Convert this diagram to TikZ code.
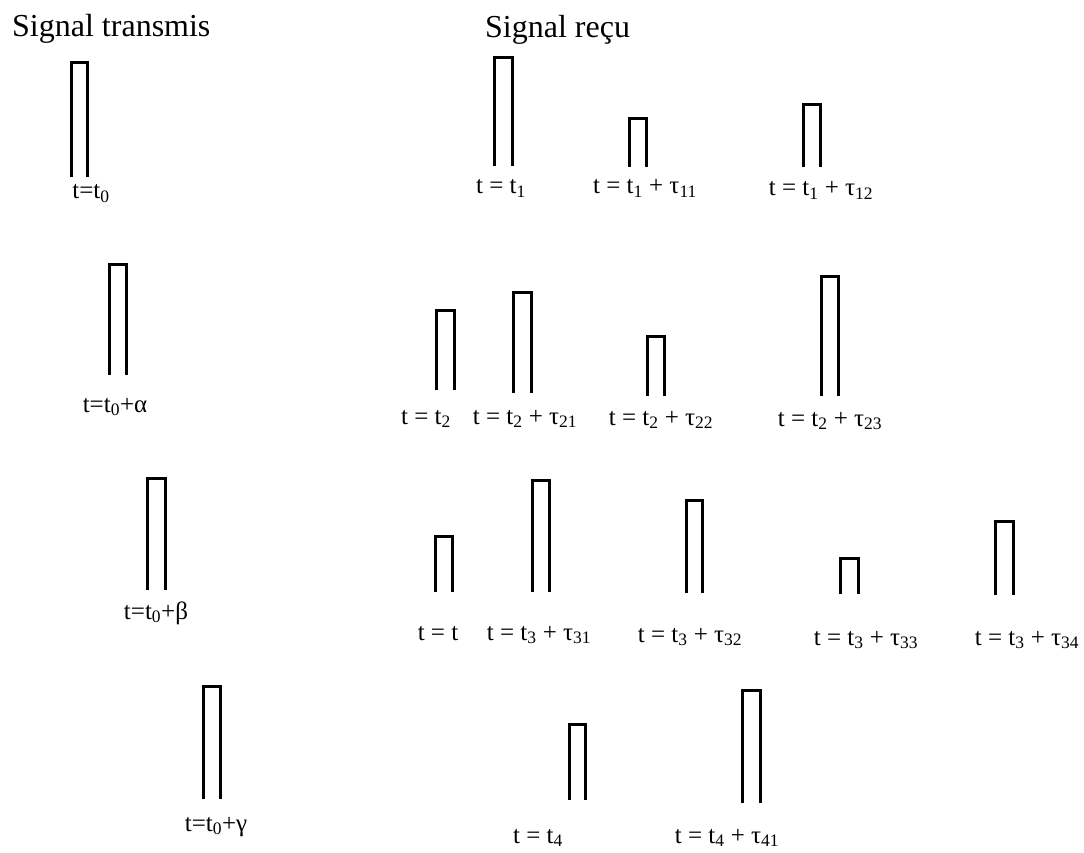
\documentclass[tikz,border=0pt]{standalone}
\usepackage{fontspec}
\setmainfont{Liberation Serif}
\usetikzlibrary{positioning}
% open pulse: left edge, right edge, top, bottom
\newcommand{\pulse}[4]{\draw[pulse] (#1,#4) |- (#2,#3) -- (#2,#4);}

\begin{document}
\begin{tikzpicture}[x=1pt,y=-1pt,
  pulse/.style={line width=2.7pt,line join=miter},
  lbl/.style={font=\fontsize{25}{27}\selectfont,inner sep=0pt,anchor=base},
  heading/.style={font=\fontsize{32}{36}\selectfont,inner sep=0pt,anchor=base west}]
  \useasboundingbox (0,0) rectangle (1084,853);

  % Headings
  \node[heading] (tx) at (12,37) {Signal transmis};
  \node[heading] (rx) at (485,38) {Signal reçu};

  % Transmitted signal
  \pulse{71.5}{87.5}{62.5}{177}
  \node[lbl] (t0) at (91,199) {t=t\textsubscript{0}};
  \pulse{109.5}{126.5}{264.5}{375}
  \node[lbl] (t0a) at (115,412) {t=t\textsubscript{0}+α};
  \pulse{147.5}{165.5}{478.5}{590}
  \node[lbl] (t0b) at (156,619) {t=t\textsubscript{0}+β};
  \pulse{203.5}{220.5}{686.5}{799}
  \node[lbl] (t0g) at (216,831) {t=t\textsubscript{0}+γ};

  % Received signal, first echo
  \pulse{494.5}{512.5}{57.5}{166}
  \node[lbl] (t1) at (501,194) {t = t\textsubscript{1}};
  \pulse{629.5}{646.5}{118.5}{167}
  \node[lbl] (t11) at (645,194) {t = t\textsubscript{1} + τ\textsubscript{11}};
  \pulse{803.5}{820.5}{104.5}{167}
  \node[lbl] (t12) at (821,196) {t = t\textsubscript{1} + τ\textsubscript{12}};

  % Received signal, second echo
  \pulse{436.5}{454.5}{310.5}{390}
  \node[lbl] (t2) at (426,424) {t = t\textsubscript{2}};
  \pulse{513.5}{531.5}{292.5}{393}
  \node[lbl] (t21) at (525,424) {t = t\textsubscript{2} + τ\textsubscript{21}};
  \pulse{647.5}{664.5}{336.5}{396}
  \node[lbl] (t22) at (661,425) {t = t\textsubscript{2} + τ\textsubscript{22}};
  \pulse{821.5}{838.5}{276.5}{396}
  \node[lbl] (t23) at (830,426) {t = t\textsubscript{2} + τ\textsubscript{23}};

  % Received signal, third echo
  \pulse{435.5}{452.5}{536.5}{592}
  \node[lbl] (t3) at (438,640) {t = t};
  \pulse{532.5}{549.5}{480.5}{592}
  \node[lbl] (t31) at (539,640) {t = t\textsubscript{3} + τ\textsubscript{31}};
  \pulse{686.5}{702.5}{500.5}{593}
  \node[lbl] (t32) at (690,642) {t = t\textsubscript{3} + τ\textsubscript{32}};
  \pulse{840.5}{858.5}{558.5}{594}
  \node[lbl] (t33) at (866,645) {t = t\textsubscript{3} + τ\textsubscript{33}};
  \pulse{995.5}{1013.5}{521.5}{595}
  \node[lbl] (t34) at (1027,645) {t = t\textsubscript{3} + τ\textsubscript{34}};

  % Received signal, fourth echo
  \pulse{569.5}{585.5}{724.5}{800}
  \node[lbl] (t4) at (538,843) {t = t\textsubscript{4}};
  \pulse{742.5}{760.5}{690.5}{803}
  \node[lbl] (t41) at (727,843) {t = t\textsubscript{4} + τ\textsubscript{41}};
\end{tikzpicture}
\end{document}
